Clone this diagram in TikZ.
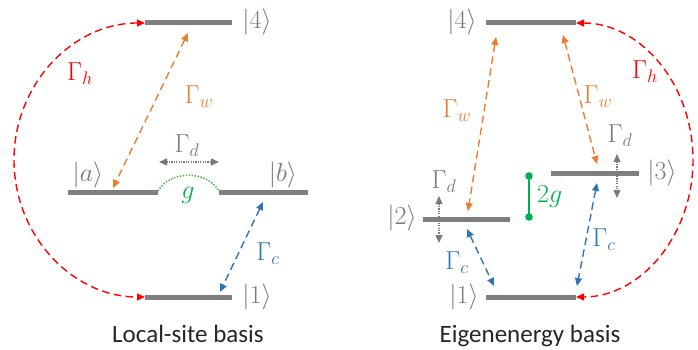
\documentclass[tikz,border=0pt]{standalone}
\usepackage{fix-cm}
\usepackage{fontspec}
\setmainfont{Carlito}
\usetikzlibrary{arrows.meta}
\definecolor{lvl}{HTML}{7F7F7F}
\definecolor{kred}{HTML}{FF0000}
\definecolor{korange}{HTML}{ED7D31}
\definecolor{kblue}{HTML}{2E75B6}
\definecolor{kgreen}{HTML}{00B050}
\definecolor{klgreen}{HTML}{4CB848}
\definecolor{kgray}{HTML}{737B86}
\definecolor{ktext}{HTML}{262626}
\begin{document}
\begin{tikzpicture}[x=1pt,y=-1pt,
  lev/.style={draw=lvl, line width=5pt},
  lbl/.style={font=\fontsize{26}{30}\selectfont, inner sep=0pt},
  captxt/.style={font=\fontsize{25}{30}\selectfont, inner sep=0pt, text=ktext, anchor=base},
  tip/.style={{Triangle[length=8pt,width=7pt]}-{Triangle[length=8pt,width=7pt]}},
  dsh/.style={line width=1.4pt, dash pattern=on 7.5pt off 4.5pt, tip},
  dtt/.style={line width=1.4pt, dash pattern=on 1.2pt off 1.2pt, tip}]
\useasboundingbox (0,0) rectangle (698,350);
% ---------------- Left panel ----------------
\coordinate (L4a) at (145,23);  \coordinate (L4b) at (232,23);
\coordinate (Laa) at (68,192);  \coordinate (Lab) at (158,192);
\coordinate (Lba) at (219,192); \coordinate (Lbb) at (308,192);
\coordinate (L1a) at (145,297); \coordinate (L1b) at (232,297);
\draw[lev] (L4a) -- (L4b);
\draw[lev] (Laa) -- (Lab);
\draw[lev] (Lba) -- (Lbb);
\draw[lev] (L1a) -- (L1b);
\node[lbl, text=kgray] (k4L) at (257,22) {$|4\rangle$};
\node[lbl, text=kgray] (kaL) at (88,175) {$|a\rangle$};
\node[lbl, text=kgray] (kbL) at (283,175) {$|b\rangle$};
\node[lbl, text=kgray] (k1L) at (257,297) {$|1\rangle$};
% red arc
\draw[dsh, color=kred] (L4a) arc[start angle=270, end angle=90, x radius=131, y radius=137];
\node[lbl, text=kred] (ghL) at (80,74) {$\Gamma_h$};
% orange
\coordinate (LwA) at (188,33); \coordinate (LwB) at (113,188);
\draw[dsh, color=korange] (LwA) -- (LwB);
\node[lbl, text=korange] (gwL) at (199,97) {$\Gamma_w$};
% Gamma_d
\coordinate (LdA) at (159,162); \coordinate (LdB) at (219,162);
\draw[dtt, color=kgray] (LdA) -- (LdB);
\node[lbl, text=kgray] (gdL) at (187,146) {$\Gamma_d$};
% g
\coordinate (LgA) at (158,191); \coordinate (LgB) at (219,191);
\draw[klgreen, line width=1.5pt, dash pattern=on 1.5pt off 1.5pt] (LgA) .. controls (170,170) and (207,170) .. (LgB);
\node[lbl, text=kgreen] (gL) at (188,195) {$g$};
% blue
\coordinate (LcA) at (263,202); \coordinate (LcB) at (220,292);
\draw[dsh, color=kblue] (LcA) -- (LcB);
\node[lbl, text=kblue] (gcL) at (268,254) {$\Gamma_c$};
\node[captxt] (capL) at (188,342) {Local-site basis};
% ---------------- Right panel ----------------
\coordinate (R4a) at (486,23);  \coordinate (R4b) at (576,23);
\coordinate (R3a) at (551,173); \coordinate (R3b) at (639,173);
\coordinate (R2a) at (423,219); \coordinate (R2b) at (510,219);
\coordinate (R1a) at (486,297); \coordinate (R1b) at (576,297);
\draw[lev] (R4a) -- (R4b);
\draw[lev] (R3a) -- (R3b);
\draw[lev] (R2a) -- (R2b);
\draw[lev] (R1a) -- (R1b);
\node[lbl, text=kgray] (k4R) at (462,22) {$|4\rangle$};
\node[lbl, text=kgray] (k3R) at (662,173) {$|3\rangle$};
\node[lbl, text=kgray] (k2R) at (402,218) {$|2\rangle$};
\node[lbl, text=kgray] (k1R) at (464,297) {$|1\rangle$};
% red arc
\draw[dsh, color=kred] (R4b) arc[start angle=270, end angle=450, x radius=117, y radius=137];
\node[lbl, text=kred] (ghR) at (645,72) {$\Gamma_h$};
% orange
\coordinate (RwA) at (496,37); \coordinate (RwB) at (468,211);
\draw[dsh, color=korange] (RwA) -- (RwB);
\node[lbl, text=korange] (gwR1) at (457,111) {$\Gamma_w$};
\coordinate (RwC) at (563,35); \coordinate (RwD) at (597,164);
\draw[dsh, color=korange] (RwC) -- (RwD);
\node[lbl, text=korange] (gwR2) at (598,97) {$\Gamma_w$};
% Gamma_d at |3>
\coordinate (Rd3A) at (617,154); \coordinate (Rd3B) at (617,198);
\draw[dtt, color=kgray] (Rd3A) -- (Rd3B);
\node[lbl, text=kgray] (gd3) at (620,136) {$\Gamma_d$};
% Gamma_d at |2>
\coordinate (Rd2A) at (439,196); \coordinate (Rd2B) at (439,243);
\draw[dtt, color=kgray] (Rd2A) -- (Rd2B);
\node[lbl, text=kgray] (gd2) at (444,182) {$\Gamma_d$};
% 2g
\coordinate (RgA) at (529,176); \coordinate (RgB) at (529,217);
\draw[kgreen, line width=2pt] (RgA) -- (RgB);
\fill[kgreen] (RgA) circle[radius=3.8];
\fill[kgreen] (RgB) circle[radius=3.8];
\node[lbl, text=kgreen, anchor=west] (g2) at (537,197) {$2g$};
% blue
\coordinate (RcA) at (467,229); \coordinate (RcB) at (494,286);
\draw[dsh, color=kblue] (RcA) -- (RcB);
\node[lbl, text=kblue] (gcR1) at (457,263) {$\Gamma_c$};
\coordinate (RcC) at (597,183); \coordinate (RcD) at (577,286);
\draw[dsh, color=kblue] (RcC) -- (RcD);
\node[lbl, text=kblue] (gcR2) at (604,240) {$\Gamma_c$};
\node[captxt] (capR) at (530,342) {Eigenenergy basis};
\end{tikzpicture}
\end{document}
